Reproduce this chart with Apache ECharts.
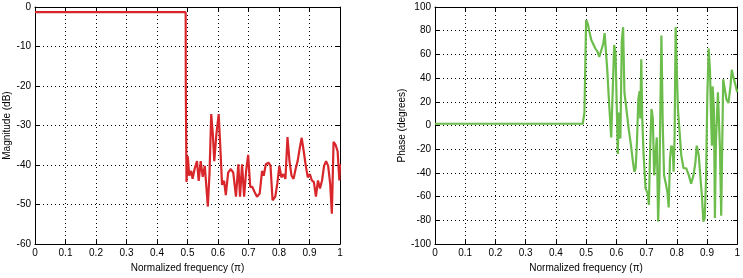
<!DOCTYPE html>
<html><head><meta charset="utf-8">
<script src="https://cdn.jsdelivr.net/npm/echarts@6/dist/echarts.min.js"></script>
<style>html,body{margin:0;padding:0;background:#fff}#c{width:743px;height:278px}</style>
</head><body><div id="c"></div>
<script>
const xTicks = [0,0.1,0.2,0.3,0.4,0.5,0.6,0.7,0.8,0.9,1];
const magTicks = [-60,-50,-40,-30,-20,-10,0];
const phaseTicks = [-100,-80,-60,-40,-20,0,20,40,60,80,100];

const magFreq = [0,0.494,0.4944,0.4967,0.5011,0.5056,0.5122,0.5167,0.5233,0.5311,0.5367,0.5433,0.55,0.5567,0.5667,0.5722,0.5778,0.5833,0.5878,0.5944,0.6022,0.6078,0.6133,0.62,0.6256,0.6333,0.6422,0.65,0.6589,0.6667,0.6722,0.6789,0.6856,0.6922,0.6989,0.7056,0.7122,0.72,0.7278,0.7367,0.7444,0.75,0.7567,0.7656,0.7722,0.7789,0.7878,0.7944,0.8011,0.8078,0.8144,0.8211,0.8278,0.8344,0.8411,0.8478,0.8544,0.8611,0.8678,0.8744,0.8811,0.8878,0.8944,0.9011,0.9078,0.9144,0.9211,0.9278,0.9344,0.9411,0.9478,0.9544,0.9611,0.9678,0.9733,0.9789,0.9856,0.9922,0.9978,1.0];
const magDb = [-1.3,-1.3,-20,-44.3,-37.8,-42.7,-41.5,-43.5,-41,-39,-44,-39,-43,-40.2,-50.5,-42,-27.1,-32.5,-39,-32.5,-27.1,-35.8,-45,-44,-47.6,-41.9,-41,-41.9,-48,-39.8,-48,-39.8,-48,-41.5,-37.4,-45.5,-45.5,-46.8,-48,-47.2,-41.5,-42.7,-39.8,-39.4,-40.2,-48.9,-48,-44.7,-40.2,-43.1,-42.3,-43.5,-32.9,-39,-42.7,-43.5,-41,-39,-35.8,-33.1,-36.5,-40.2,-43.1,-42.3,-43.9,-44.3,-48,-43.9,-45.9,-43.9,-40.2,-39,-40.2,-44.7,-52.3,-34.1,-34.9,-36.5,-43.9,-39.8];

const phaseFreq = [0,0.1,0.2,0.3,0.4,0.489,0.4913,0.4945,0.5,0.5055,0.511,0.5175,0.5241,0.5306,0.5372,0.5437,0.5503,0.5568,0.5612,0.5656,0.5700,0.5765,0.5831,0.5885,0.5929,0.5973,0.6016,0.6049,0.6082,0.6134,0.6180,0.6224,0.6268,0.6333,0.6410,0.6486,0.6552,0.6596,0.6639,0.6683,0.6727,0.6770,0.6792,0.6825,0.6858,0.6902,0.6967,0.7033,0.7077,0.7120,0.7164,0.7208,0.7251,0.7295,0.7339,0.7383,0.7426,0.7448,0.7492,0.7536,0.7579,0.7645,0.7689,0.7732,0.7776,0.7820,0.7863,0.7896,0.7929,0.7962,0.8038,0.8148,0.8224,0.8311,0.8399,0.8475,0.8552,0.8617,0.8661,0.8727,0.8792,0.8836,0.8880,0.8923,0.8967,0.9011,0.9055,0.9098,0.9142,0.9164,0.9186,0.9230,0.9262,0.9295,0.9361,0.9426,0.9470,0.9536,0.9601,0.9645,0.9710,0.9776,0.9820,0.9863,1.0];
const phaseDeg = [1.5,1.5,1.5,1.5,1.5,1.5,1.4,11,89,86,79,72,72,65,62.5,58,58,69,78,62.5,47,17,-10,33,68,61,14,-24,11,-11,71,83,28,14,-3,-17,-31,-39,-36,-14,22,29,6,56,6,-25,-53,-57,-67,-19,14,6,-42,-25,-10,-81,-47,-3,76,0,-42,-50,-56,-69,-28,-17,-19,-39,-8,83,14,-25,-36,-36,-42,-49,-42,-31,-17,-25,-47,-61,-81,-78,-47,25,65,47,0,-17,33,14,-78,-14,28,-17,-76,39,40,22,19,33,47,42,28,22,11,3];

const magData = magFreq.map((f,i)=>[f,magDb[i]]);
const phaseData = phaseFreq.map((f,i)=>[f,phaseDeg[i]]);

const font = 'Liberation Sans, Arial, sans-serif';
const lbl = {color:'#000', fontSize:10, fontFamily:font, margin:4};
const split = {show:true, lineStyle:{color:'#000', type:[1,3], width:1}};
const line = {show:true, onZero:false, lineStyle:{color:'#000', width:1}};
const tick = {show:true, inside:true, length:4, lineStyle:{color:'#000'}};

function xAx(gi, name){
  return {type:'value', gridIndex:gi, min:0, max:1, interval:0.1, name:name,
    nameLocation:'middle', nameGap:17, nameTextStyle:{color:'#000', fontSize:10, fontFamily:font},
    axisLabel:Object.assign({}, lbl, {formatter:v=>String(+v.toFixed(1))}), axisLine:line, axisTick:tick, splitLine:split};
}
function xTop(gi){
  return {type:'value', gridIndex:gi, position:'top', min:0, max:1, interval:0.1,
    axisLabel:{show:false}, axisLine:line, axisTick:tick, splitLine:{show:false}};
}
function yAx(gi, min, max, iv, name){
  return {type:'value', gridIndex:gi, min:min, max:max, interval:iv, name:name,
    nameLocation:'middle', nameGap:22, nameTextStyle:{color:'#000', fontSize:10, fontFamily:font},
    axisLabel:lbl, axisLine:line, axisTick:tick, splitLine:split};
}
function yRight(gi, min, max, iv){
  return {type:'value', gridIndex:gi, position:'right', min:min, max:max, interval:iv,
    axisLabel:{show:false}, axisLine:line, axisTick:tick, splitLine:{show:false}};
}

const chart = echarts.init(document.getElementById('c'), null, {renderer:'canvas'});
chart.setOption({
  animation:false,
  backgroundColor:'#fff',
  grid:[
    {left:35, right:403, top:7, bottom:30},
    {left:435, right:3, top:7, bottom:30}
  ],
  xAxis:[xAx(0,'Normalized frequency (π)'), xAx(1,'Normalized frequency (π)'), xTop(0), xTop(1)],
  yAxis:[yAx(0,-60,0,10,'Magnitude (dB)'), yAx(1,-100,100,20,'Phase (degrees)'), yRight(0,-60,0,10), yRight(1,-100,100,20)],
  series:[
    {type:'line', xAxisIndex:0, yAxisIndex:0, data:magData, showSymbol:false, symbol:'none',
     lineStyle:{color:'#d8262b', width:2.2}},
    {type:'line', xAxisIndex:1, yAxisIndex:1, data:phaseData, showSymbol:false, symbol:'none',
     lineStyle:{color:'#6cbd4c', width:2.2}}
  ]
});
</script>
</body></html>
